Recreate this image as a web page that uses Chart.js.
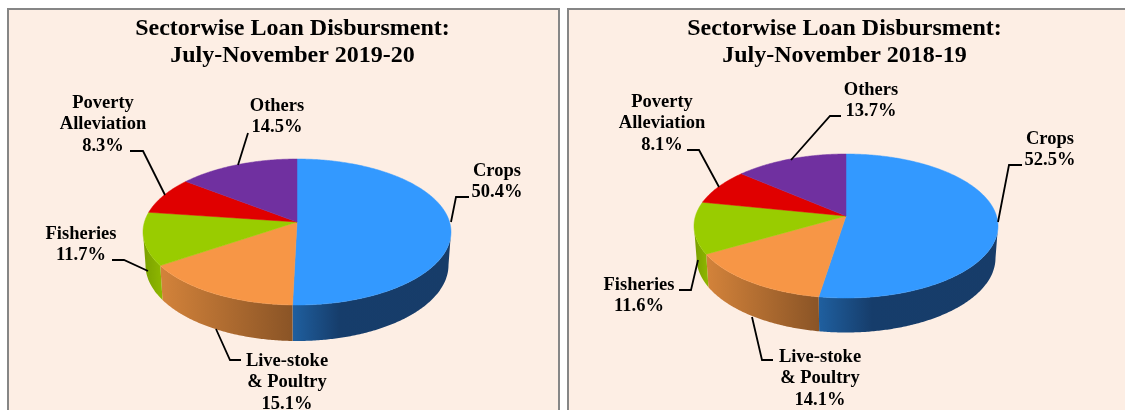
<!DOCTYPE html>
<html>
<head>
<meta charset="utf-8">
<script src="https://cdn.jsdelivr.net/npm/chart.js@4"></script>
<style>
html,body{margin:0;padding:0;background:#fff;width:1125px;height:410px;overflow:hidden}
.panel{position:absolute;top:8px;height:402px;box-sizing:border-box;background:#fdeee4;border:2px solid #868686;border-bottom:none}
#p1{left:7px;width:553px}
#p2{left:567px;width:560px}
canvas{position:absolute;left:0;top:0}
</style>
</head>
<body>
<div class="panel" id="p1"><canvas id="c1"></canvas></div>
<div class="panel" id="p2"><canvas id="c2"></canvas></div>
<script>
const categories = ['Crops', 'Live-stoke & Poultry', 'Fisheries', 'Poverty Alleviation', 'Others'];
const values2019 = [50.4, 15.1, 11.7, 8.3, 14.5];
const values2018 = [52.5, 14.1, 11.6, 8.1, 13.7];
const labelLines = [['Crops'], ['Live-stoke', '& Poultry'], ['Fisheries'], ['Poverty', 'Alleviation'], ['Others']];
const titleLine1 = 'Sectorwise Loan Disbursment:';
const title2019 = 'July-November 2019-20';
const title2018 = 'July-November 2018-19';
const topColors = ['#3399ff', '#f79646', '#99cc00', '#e00000', '#7030a0'];
const wallStops = [
  [[0, '#1f5f9f'], [0.3, '#163d6b'], [1, '#173c69']],
  [[0, '#d2823a'], [1, '#8a5426']],
  [[0, '#7ca300'], [1, '#8fb800']],
  [[0, '#a00000'], [1, '#a00000']],
  [[0, '#4f2272'], [1, '#4f2272']]
];
const FONT = '"Liberation Serif","Times New Roman",serif';

/* layouts are in page pixels; the plugin shifts by the canvas offset */
const layout1 = {
  ox: 9, oy: 10, w: 549, h: 400, padL: 18, padR: 0,
  cx: 297, top: {cy: 232, rx: 154, ry: 73}, bot: {cy: 265, rx: 151.5, ry: 76}, a: -0.137,
  labels: [
    {x: 497, y: 171}, {x: 287, y: 361}, {x: 81, y: 234}, {x: 103, y: 103}, {x: 277, y: 106}
  ],
  leaders: [
    [[469,197],[456,197],[451,222]],
    [[241,360],[230,360],[216,329]],
    [[112,260],[124,260],[148,271]],
    [[130,151],[143,151],[165,195]],
    [[248,133],[238,165]]
  ]
};
const layout2 = {
  ox: 569, oy: 10, w: 558, h: 400, padL: 0, padR: 7,
  cx: 846, top: {cy: 226, rx: 152, ry: 72}, bot: {cy: 258, rx: 149.5, ry: 74.5}, a: -0.139,
  labels: [
    {x: 1050, y: 139}, {x: 820, y: 357}, {x: 639, y: 285}, {x: 662, y: 102}, {x: 871, y: 90}
  ],
  leaders: [
    [[1022,165],[1009,165],[998,222]],
    [[773,360],[762,360],[752,317]],
    [[679,290],[691,290],[698,260]],
    [[687,150],[699,150],[719,187]],
    [[841,116],[830,116],[791,160]]
  ]
};

function project(ring, cx, a, ang) {
  const u = Math.cos(ang), v = Math.sin(ang), d = 1 + a * v, k = 1 - a * a;
  return [cx + ring.rx * Math.sqrt(k) * u / d, ring.cy + ring.ry * (k * v / d + a)];
}
function arcPts(ring, cx, a, s, e) {
  const n = Math.max(2, Math.ceil(Math.abs(e - s) / 0.01)), pts = [];
  for (let i = 0; i <= n; i++) pts.push(project(ring, cx, a, s + (e - s) * i / n));
  return pts;
}

const pie3d = {
  id: 'pie3d',
  beforeDatasetsDraw(chart) {
    const L = chart.options.plugins.pie3d.layout, ctx = chart.ctx;
    const arcs = chart.getDatasetMeta(0).data;
    const alpha = Math.asin(-L.a);
    ctx.save();
    ctx.translate(-L.ox, -L.oy);
    /* side wall */
    arcs.forEach((el, i) => {
      const s = Math.max(el.startAngle, alpha), e = Math.min(el.endAngle, Math.PI - alpha);
      if (e <= s) return;
      const t = arcPts(L.top, L.cx, L.a, s, e), b = arcPts(L.bot, L.cx, L.a, e, s);
      const pts = t.concat(b), xs = b.map(p => p[0]);
      const g = ctx.createLinearGradient(Math.min(...xs), 0, Math.max(...xs), 0);
      wallStops[i].forEach(st => g.addColorStop(st[0], st[1]));
      ctx.beginPath();
      pts.forEach((p, j) => j ? ctx.lineTo(p[0], p[1]) : ctx.moveTo(p[0], p[1]));
      ctx.closePath();
      ctx.fillStyle = g;
      ctx.fill();
    });
    /* top face, one path per arc element */
    const apex = project(L.top, L.cx, L.a, 0)[1];
    arcs.forEach((el, i) => {
      const pts = arcPts(L.top, L.cx, L.a, el.startAngle, el.endAngle);
      ctx.beginPath();
      ctx.moveTo(L.cx, apex);
      pts.forEach(p => ctx.lineTo(p[0], p[1]));
      ctx.closePath();
      ctx.fillStyle = el.options.backgroundColor;
      ctx.strokeStyle = el.options.backgroundColor;
      ctx.lineWidth = 0.5;
      ctx.fill();
      ctx.stroke();
    });
    /* leaders */
    ctx.strokeStyle = '#000';
    ctx.lineWidth = 1.8;
    L.leaders.forEach(l => {
      ctx.beginPath();
      l.forEach((p, j) => j ? ctx.lineTo(p[0], p[1]) : ctx.moveTo(p[0], p[1]));
      ctx.stroke();
    });
    /* labels */
    const vals = chart.data.datasets[0].data;
    ctx.fillStyle = '#000';
    ctx.font = 'bold 18.5px ' + FONT;
    ctx.textAlign = 'center';
    ctx.textBaseline = 'middle';
    L.labels.forEach((pos, i) => {
      const lines = labelLines[i].concat([vals[i].toFixed(1) + '%']);
      lines.forEach((t, j) => ctx.fillText(t, pos.x, pos.y + j * 21.7));
    });
    ctx.restore();
    return false;
  }
};

function makeChart(id, L, values, title2) {
  const cv = document.getElementById(id);
  cv.width = L.w; cv.height = L.h;
  cv.style.width = L.w + 'px'; cv.style.height = L.h + 'px';
  return new Chart(cv, {
    type: 'pie',
    data: {
      labels: categories,
      datasets: [{data: values, backgroundColor: topColors, borderWidth: 0}]
    },
    options: {
      responsive: false,
      animation: false,
      layout: {padding: {left: L.padL, right: L.padR}},
      plugins: {
        legend: {display: false},
        tooltip: {enabled: false},
        title: {
          display: true,
          text: [titleLine1, title2],
          color: '#000',
          font: {family: FONT, size: 24, weight: 'bold', lineHeight: 1.12},
          padding: {top: 5, bottom: 0}
        },
        pie3d: {layout: L}
      }
    },
    plugins: [pie3d]
  });
}
makeChart('c1', layout1, values2019, title2019);
makeChart('c2', layout2, values2018, title2018);
</script>
</body>
</html>
